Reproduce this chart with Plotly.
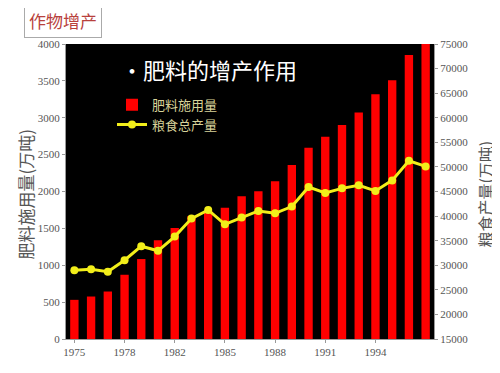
import plotly.graph_objects as go

# Data
bar_index = list(range(22))
fertilizer = [531, 576, 644, 871, 1084, 1338, 1506, 1664, 1732, 1778, 1936, 2004,
              2140, 2358, 2594, 2744, 2902, 3070, 3320, 3510, 3850, 4000]
grain = [29000, 29200, 28680, 31030, 33870, 32940, 35840, 39490, 41250, 38330, 39690, 41050,
         40570, 41930, 45920, 44700, 45640, 46250, 45110, 47260, 51250, 50100]
tick_pos = [0, 3, 6, 9, 12, 15, 18]
tick_text = ["1975", "1978", "1982", "1985", "1988", "1991", "1994"]

serif = "Liberation Serif, Times New Roman, serif"
cjk = "Noto Sans CJK SC"

fig = go.Figure()
fig.add_trace(go.Bar(x=bar_index, y=fertilizer, name="肥料施用量",
                     marker=dict(color="#ff0000", line=dict(width=0)), width=0.5))
fig.add_trace(go.Scatter(x=bar_index, y=grain, name="粮食总产量", yaxis="y2",
                         mode="lines+markers",
                         line=dict(color="#f2ee1a", width=3),
                         marker=dict(color="#f2ee1a", size=8)))

axis_common = dict(showgrid=False, zeroline=False, showline=True, linecolor="#999",
                   ticks="outside", ticklen=3, tickcolor="#999", automargin=False,
                   tickfont=dict(family=serif, size=11, color="#555"))

# page body has an 8px default margin, so the figure is 492x365 and sits at (8, 8)
fig.update_layout(
    width=492, height=365,
    margin=dict(l=58, r=66, t=36, b=34),
    paper_bgcolor="white", plot_bgcolor="black",
    showlegend=True,
    bargap=0.5,
    legend=dict(x=0.125, y=0.845, xanchor="left", yanchor="top",
                bgcolor="rgba(0,0,0,0)", font=dict(family=cjk, size=13, color="#d8d39a"),
                tracegroupgap=0, itemwidth=30),
    xaxis=dict(range=[-0.5, 21.5], tickmode="array", tickvals=tick_pos, ticktext=tick_text,
               **axis_common),
    yaxis=dict(range=[0, 4000], tickvals=list(range(0, 4001, 500)), tickformat="d",
               **axis_common),
    yaxis2=dict(range=[15000, 75000], tickvals=list(range(15000, 75001, 5000)), tickformat="d",
                overlaying="y", side="right", **axis_common),
    annotations=[
        dict(text="•肥料的增产作用", xref="paper", yref="paper", x=0.145, y=0.915,
             xanchor="left", yanchor="middle", showarrow=False,
             font=dict(family=cjk, size=22, color="white")),
        dict(text="肥料施用量(万吨)", xref="paper", yref="paper", x=-0.111, y=0.49,
             xanchor="center", yanchor="middle", showarrow=False, textangle=-90,
             font=dict(family=cjk, size=17, color="#555")),
        dict(text="粮食产量(万吨)", xref="paper", yref="paper", x=1.139, y=0.49,
             xanchor="center", yanchor="middle", showarrow=False, textangle=-90,
             font=dict(family=cjk, size=16, color="#555")),
        dict(text="作物增产", xref="paper", yref="paper", x=-0.0095, y=1.08,
             xanchor="center", yanchor="middle", showarrow=False,
             bordercolor="#aaa", borderwidth=1, borderpad=4, bgcolor="white",
             font=dict(family=cjk, size=17, color="#b8413c")),
    ],
)

fig.write_html("out.html")
